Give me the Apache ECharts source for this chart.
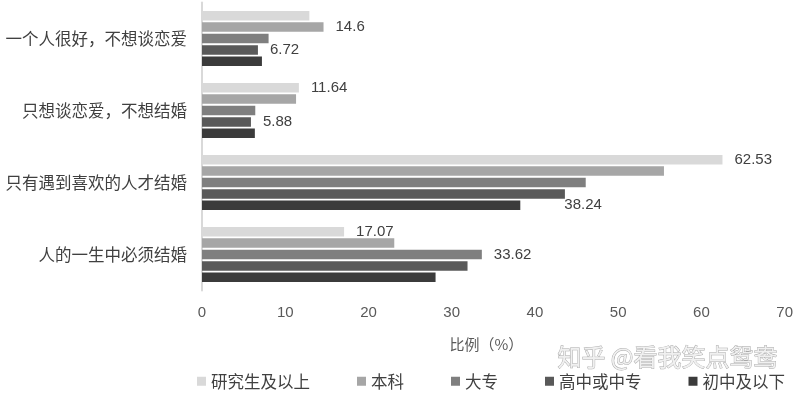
<!DOCTYPE html>
<html><head><meta charset="utf-8">
<script src="https://cdn.jsdelivr.net/npm/echarts@6/dist/echarts.min.js"></script>
<style>html,body{margin:0;padding:0;background:#fff}#c{width:796px;height:395px}</style>
</head><body><div id="c"></div>
<script>
const categories = ['一个人很好，不想谈恋爱','只想谈恋爱，不想结婚','只有遇到喜欢的人才结婚','人的一生中必须结婚'];
const seriesNames = ['研究生及以上','本科','大专','高中或中专','初中及以下'];
const grad = [12.9, 11.64, 62.53, 17.07];
const bachelor = [14.6, 11.3, 55.5, 23.1];
const college = [8.0, 6.4, 46.1, 33.62];
const highSchool = [6.72, 5.88, 43.6, 31.9];
const juniorHigh = [7.2, 6.35, 38.24, 28.06];
const xTicks = [0, 10, 20, 30, 40, 50, 60, 70];
// which category indices carry a data label, per series
const labelled = [[1, 2, 3], [0], [3], [0, 1], [2]];

const values = [grad, bachelor, college, highSchool, juniorHigh];
const colors = ['#d9d9d9', '#a6a6a6', '#7f7f7f', '#595959', '#3b3b3b'];
const labelOffsets = {'4-2': [32, 0]};
const numFont = 'Liberation Sans';
const cjk = '"Noto Sans CJK SC"';

const chart = echarts.init(document.getElementById('c'), null, {renderer: 'canvas'});
chart.setOption({
  animation: false,
  backgroundColor: '#fff',
  grid: {left: 202, right: 11, top: 2.5, height: 288, containLabel: false},
  xAxis: {
    type: 'value', min: xTicks[0], max: xTicks[xTicks.length - 1], interval: 10,
    axisLine: {show: false}, axisTick: {show: false}, splitLine: {show: false},
    axisLabel: {color: '#595959', fontSize: 15, fontFamily: numFont, margin: 15},
    name: '比例（%）', nameLocation: 'middle', nameGap: 46,
    nameTextStyle: {color: '#595959', fontSize: 15, fontFamily: cjk, padding: [0, 14, 0, 0]}
  },
  yAxis: {
    type: 'category', data: categories, inverse: true,
    axisLine: {show: true, lineStyle: {color: '#d9d9d9', width: 2}},
    axisTick: {show: false},
    axisLabel: {color: '#404040', fontSize: 16.5, fontFamily: cjk, margin: 15}
  },
  legend: {
    data: seriesNames, left: 197, top: 373, padding: 0, itemWidth: 9, itemHeight: 9, itemGap: 47,
    icon: 'rect',
    textStyle: {color: '#404040', fontSize: 16.5, fontFamily: cjk, padding: [0, 0, 0, 0]}
  },
  graphic: [{
    type: 'text', left: 557, top: 344,
    style: {text: '知乎 @看我笑点鸳鸯', font: '24px "Noto Sans CJK SC"', fill: '#f0f0f0', stroke: '#a8a8a8', lineWidth: 0.9}
  }],
  series: seriesNames.map((name, si) => ({
    name, type: 'bar', barWidth: 9.5, barGap: '20%',
    itemStyle: {color: colors[si]},
    label: {show: false},
    data: values[si].map((v, ci) => {
      if (!labelled[si].includes(ci)) return v;
      return {value: v, label: {show: true, position: 'right', distance: 12,
        offset: labelOffsets[si + '-' + ci] || [0, 0],
        color: '#404040', fontSize: 15, fontFamily: numFont}};
    })
  }))
});
</script></body></html>
